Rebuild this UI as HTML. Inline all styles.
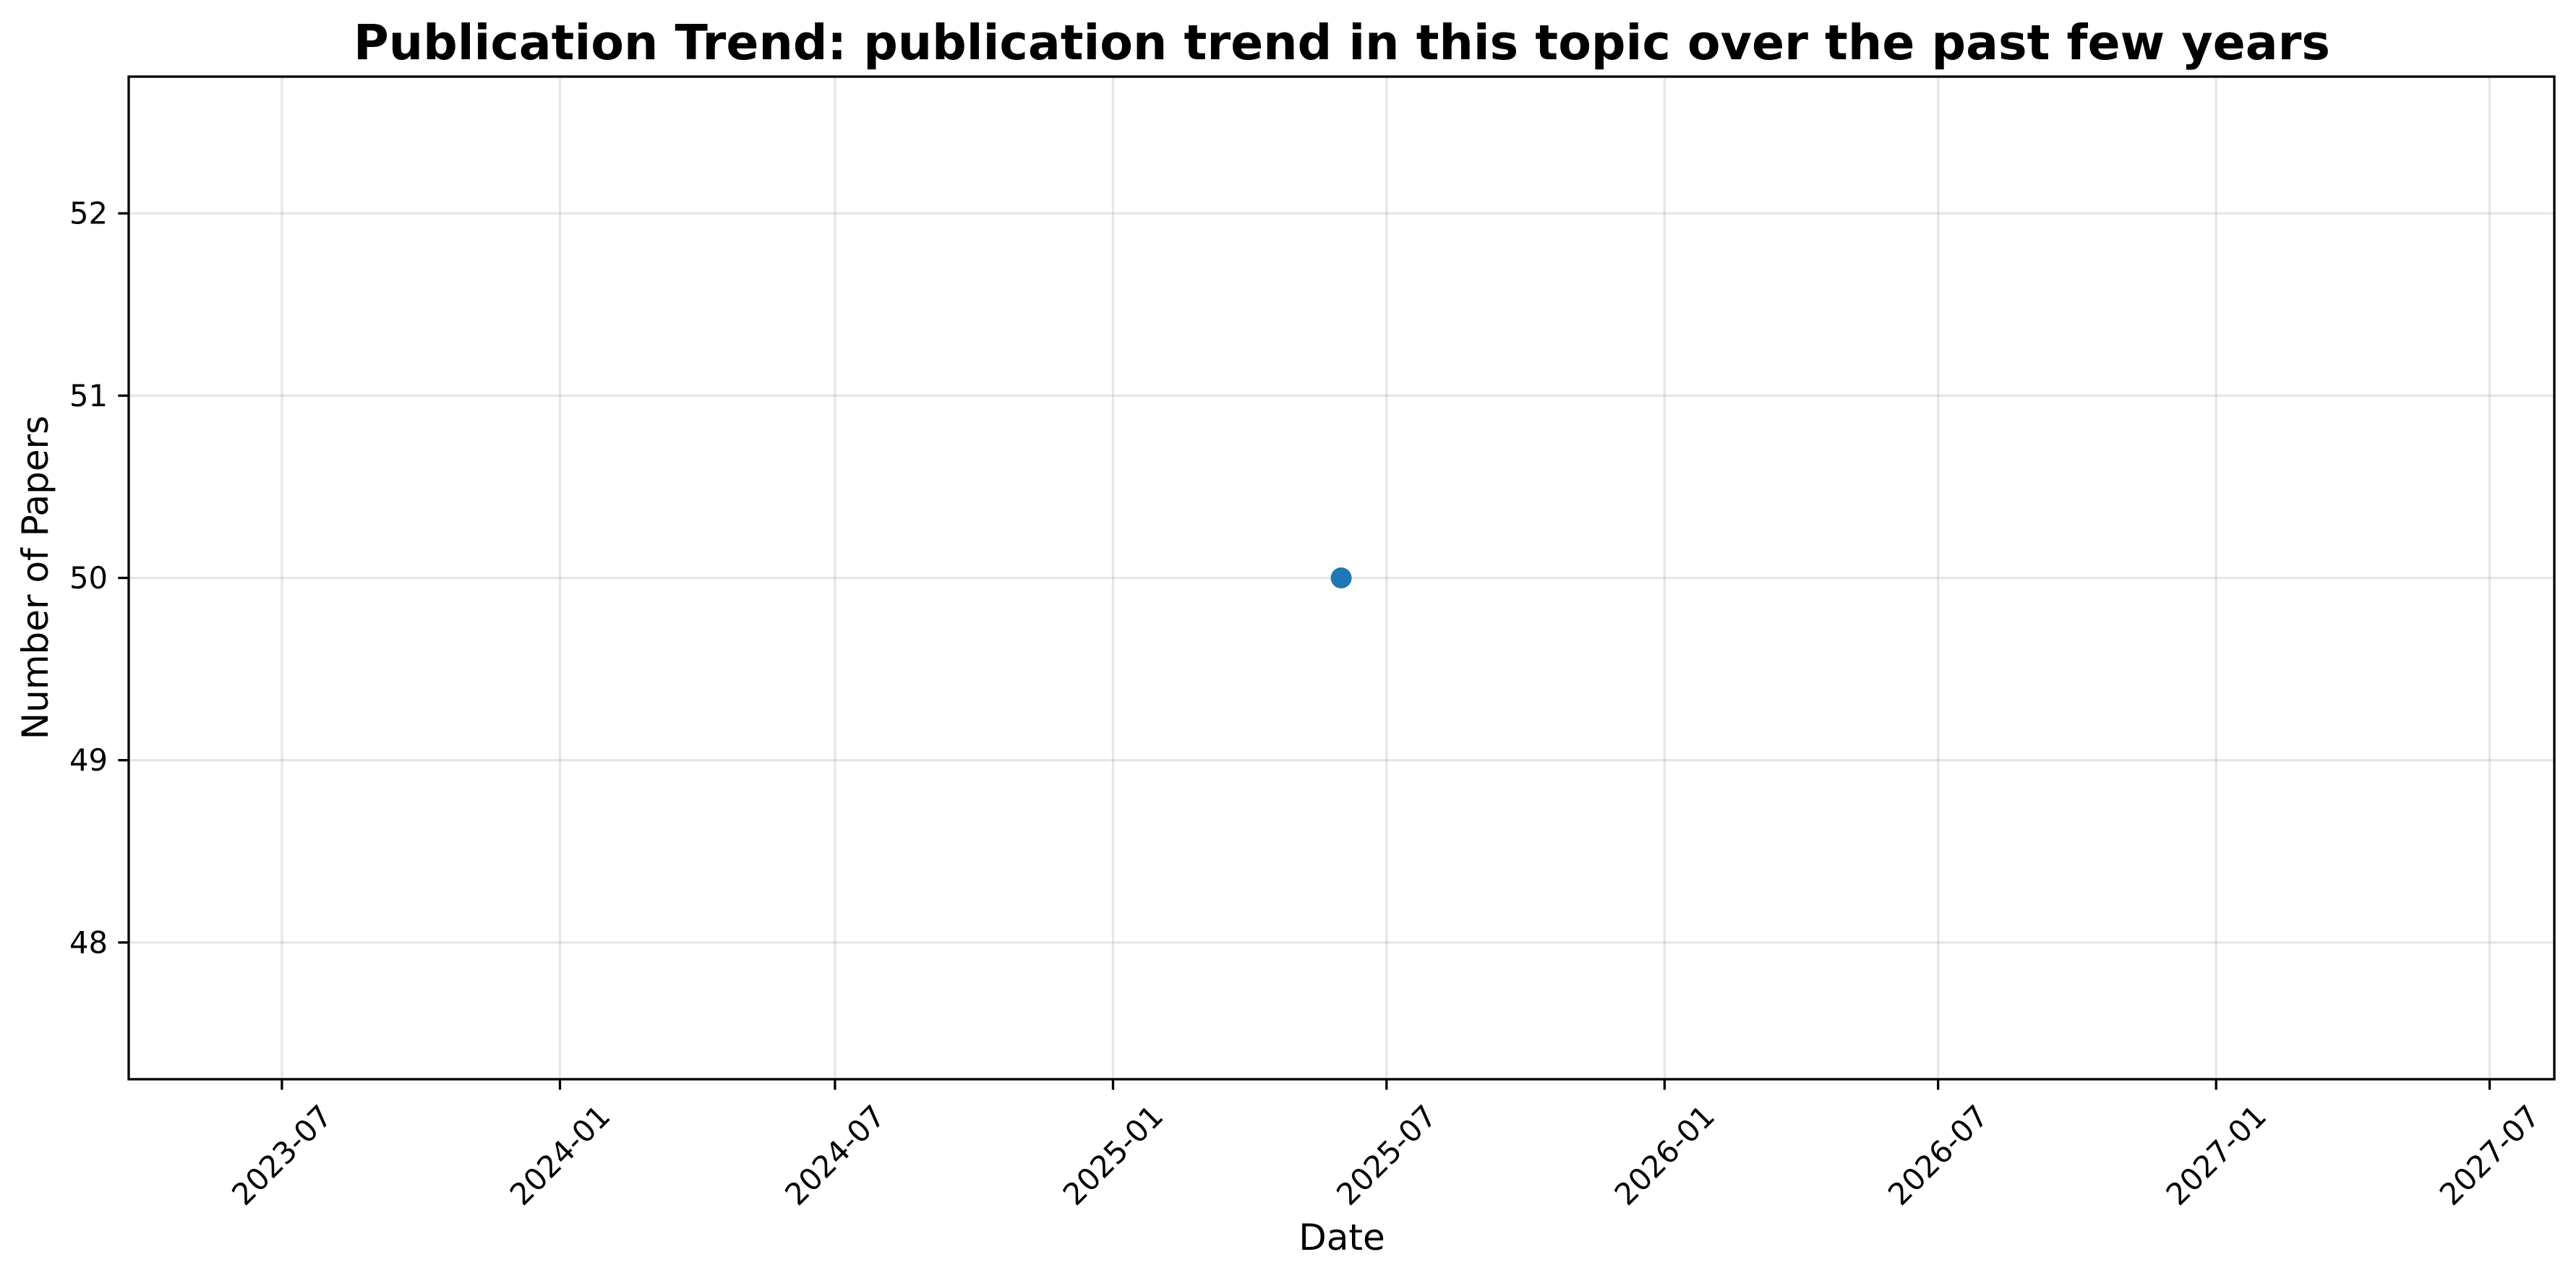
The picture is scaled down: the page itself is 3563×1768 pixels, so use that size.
<!DOCTYPE html>
<html><head><meta charset="utf-8"><style>
html,body{margin:0;padding:0;background:#fff;}
svg{display:block;font-family:"DejaVu Sans","Liberation Sans",sans-serif;}
</style></head><body>
<svg id="chart" width="3563" height="1768" viewBox="0 0 3563 1768">
<rect x="0" y="0" width="3563" height="1768" fill="#fff"/>
<text x="1856" y="82" text-anchor="middle" font-size="67" font-weight="bold" textLength="2734" lengthAdjust="spacingAndGlyphs">Publication Trend: publication trend in this topic over the past few years</text>
<g id="grid"></g>
<g id="marks"></g>
<rect x="178" y="106" width="3355" height="1387" fill="none" stroke="#000" stroke-width="3.3"/>
<g id="xticks"></g>
<g id="yticks"></g>
<text x="1856" y="1729" text-anchor="middle" font-size="50">Date</text>
<text x="0" y="0" transform="translate(66,799) rotate(-90)" text-anchor="middle" font-size="50">Number of Papers</text>
</svg>
<script>
const dates = ["2025-06-01"];
const counts = [50];
const xTickLabels = ["2023-07","2024-01","2024-07","2025-01","2025-07","2026-01","2026-07","2027-01","2027-07"];
const yTickValues = [48,49,50,51,52];

const NS = "http://www.w3.org/2000/svg";
const DAY = 86400000;
const x0Date = Date.UTC(2023,6,1);
const X_LEFT = 178, X_RIGHT = 3533, Y_TOP = 106, Y_BOT = 1493;
const xDomain = [-101.4, 1503.8];
const yDomain = [47.25, 52.75];
function xScale(dstr){
  const p = dstr.split("-").map(Number);
  const d = (Date.UTC(p[0], p[1]-1, p[2]||1) - x0Date)/DAY;
  return X_LEFT + (d - xDomain[0])/(xDomain[1]-xDomain[0])*(X_RIGHT-X_LEFT);
}
function yScale(v){ return Y_BOT - (v - yDomain[0])/(yDomain[1]-yDomain[0])*(Y_BOT-Y_TOP); }
function mk(tag, attrs, parent){
  const e = document.createElementNS(NS, tag);
  for (const k in attrs) e.setAttribute(k, attrs[k]);
  parent.appendChild(e); return e;
}
const grid = document.getElementById("grid");
const xt = document.getElementById("xticks");
const yt = document.getElementById("yticks");
const marks = document.getElementById("marks");

xTickLabels.forEach(lbl => {
  const x = xScale(lbl);
  const g = mk("line", {x1:x, x2:x, y1:Y_TOP, y2:Y_BOT, stroke:"#b0b0b0", "stroke-opacity":"0.3", "stroke-width":"3.3"}, grid);
  
  
  const t = mk("line", {x1:x, x2:x, y1:Y_BOT, y2:Y_BOT+14.6, stroke:"#000", "stroke-width":"3.3"}, xt);
  
  
  const cy = 1598;
  const tx = mk("text", {x:x, y:cy, "text-anchor":"middle", "dominant-baseline":"central", "font-size":"41.7", transform:`rotate(-45 ${x} ${cy})`}, xt);
  tx.textContent = lbl;
  
  
});

yTickValues.forEach(v => {
  const y = yScale(v);
  const g = mk("line", {x1:X_LEFT, x2:X_RIGHT, y1:y, y2:y, stroke:"#b0b0b0", "stroke-opacity":"0.3", "stroke-width":"3.3"}, grid);
  
  
  const t = mk("line", {x1:X_LEFT-14.6, x2:X_LEFT, y1:y, y2:y, stroke:"#000", "stroke-width":"3.3"}, yt);
  
  
  const tx = mk("text", {x:X_LEFT-29, y:y, "text-anchor":"end", "dominant-baseline":"central", "font-size":"41.7"}, yt);
  tx.textContent = String(v);
  
  
});

let pts = dates.map((d,i)=>[xScale(d), yScale(counts[i])]);
if (pts.length > 1) {
  const pl = mk("polyline", {points: pts.map(p=>p.join(",")).join(" "), fill:"none", stroke:"#1f77b4", "stroke-width":"6.25"}, marks);
  
  
}
pts.forEach(p => {
  const c = mk("circle", {cx:p[0], cy:p[1], r:"14.5", fill:"#1f77b4"}, marks);
  
  
});
</script>
</body></html>
